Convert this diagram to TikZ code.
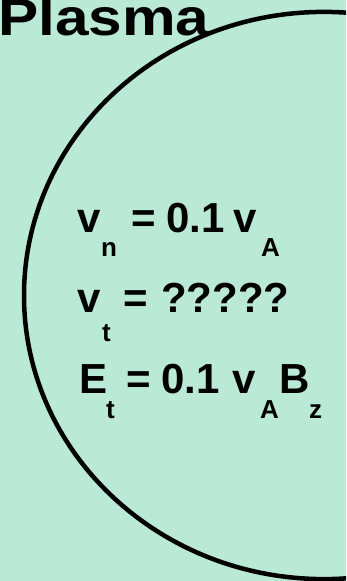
\documentclass[tikz,border=0pt]{standalone}
\usepackage{fontspec}
\usepackage{graphicx}
\setmainfont{Liberation Sans}
\definecolor{bgmint}{RGB}{186,233,214}
\begin{document}
\begin{tikzpicture}[x=1pt,y=-1pt,
  main/.style={inner sep=0pt, anchor=base west, font=\fontsize{42}{42}\selectfont\bfseries},
  subs/.style={inner sep=0pt, anchor=base west, font=\fontsize{26}{26}\selectfont\bfseries},
  titletext/.style={inner sep=0pt, anchor=base west, font=\fontsize{52}{52}\selectfont\bfseries},
  boundary/.style={line width=4.5pt, draw=black}]
\useasboundingbox (0,0) rectangle (346,581);
\fill[bgmint] (0,0) rectangle (346,581);
\begin{scope}
  \clip (0,0) rectangle (346,581);
  \draw[boundary] (324,295.5) ellipse [x radius=300, y radius=283.6];
  \node[titletext] (plasma) at (-2,35) {\scalebox{1.16}[1]{Plasma}};
\end{scope}
% line 1
\node[main] (v1) at (77,232) {v};
\node[subs] (n1) at (101,256) {n};
\node[main] (eq1) at (131,232) {=};
\node[main] (num1) at (166,232) {0.1};
\node[main] (va1) at (233,232) {v};
\node[subs] (a1) at (261,256) {A};
% line 2
\node[main] (v2) at (77,312) {v};
\node[subs] (t2) at (102,341) {t};
\node[main] (eq2) at (123,312) {=};
\node[main] (q2) at (161,312) {?????};
% line 3
\node[main] (e3) at (79,393) {E};
\node[subs] (t3) at (106,418) {t};
\node[main] (eq3) at (126,393) {=};
\node[main] (num3) at (161,393) {0.1};
\node[main] (v3) at (232,393) {v};
\node[subs] (a3) at (260,418) {A};
\node[main] (b3) at (279,393) {B};
\node[subs] (z3) at (309,418) {z};
\end{tikzpicture}
\end{document}
